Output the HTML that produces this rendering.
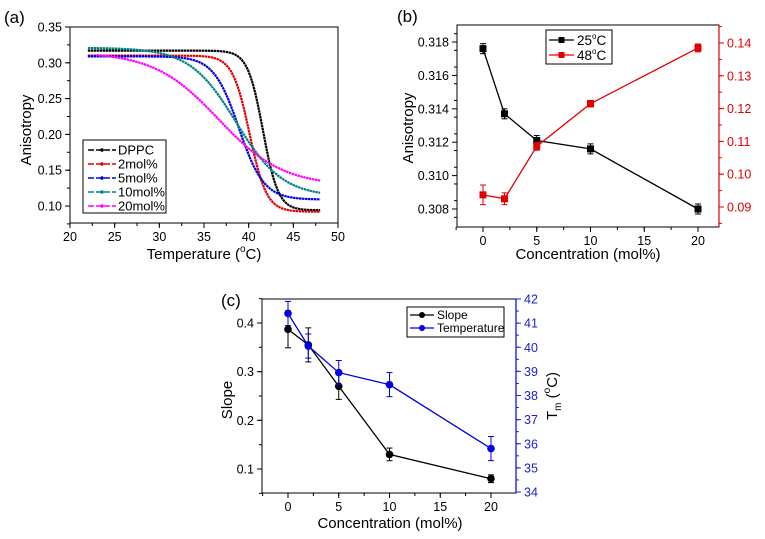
<!DOCTYPE html>
<html><head><meta charset="utf-8"><style>
body{margin:0;background:#fff}
svg{display:block;font-family:"Liberation Sans",Arial,sans-serif}
</style></head><body>
<svg id="fig" width="765" height="539" viewBox="0 0 765 539"></svg>
<script>
// Panel (a): Boltzmann fit parameters per series
const aNames=["DPPC","2mol%","5mol%","10mol%","20mol%"];
const aColors=["#000","#e00000","#0000e0","#008080","#ff00ff"];
const aTop=[0.317,0.310,0.309,0.321,0.315];
const aBottom=[0.094,0.092,0.109,0.113,0.128];
const aTm=[41.6,40.1,38.9,38.6,36.6];
const aWidth=[0.85,0.95,1.4,2.6,3.6];
const aXTicks=[20,25,30,35,40,45,50];
const aYTicks=[0.10,0.15,0.20,0.25,0.30,0.35];
// Panel (b)
const bConc=[0,2,5,10,20];
const b25=[0.3176,0.3137,0.3121,0.3116,0.3080];
const b25Err=[0.0003,0.0003,0.0003,0.0003,0.0003];
const b48=[0.0937,0.0925,0.1085,0.1215,0.1385];
const b48Err=[0.0030,0.0018,0.0012,0.0010,0.0012];
const bXTicks=[0,5,10,15,20];
const bYTicks=[0.308,0.310,0.312,0.314,0.316,0.318];
const bY2Ticks=[0.09,0.10,0.11,0.12,0.13,0.14];
// Panel (c)
const cConc=[0,2,5,10,20];
const cSlope=[0.387,0.355,0.270,0.130,0.080];
const cSlopeErr=[0.038,0.035,0.027,0.013,0.008];
const cTemp=[41.4,40.05,38.95,38.45,35.8];
const cTempErr=[0.5,0.5,0.5,0.5,0.5];
const cXTicks=[0,5,10,15,20];
const cYTicks=[0.1,0.2,0.3,0.4];
const cY2Ticks=[34,35,36,37,38,39,40,41,42];

const svg=document.getElementById('fig');
const NS='http://www.w3.org/2000/svg';
const TICKFS=12.5, TITLEFS=15;
function el(tag,attrs,parent,text){const e=document.createElementNS(NS,tag);for(const k in attrs)e.setAttribute(k,attrs[k]);if(text!==undefined)e.textContent=text;(parent||svg).appendChild(e);return e;}
function lin(d0,d1,r0,r1){return v=>r0+(v-d0)*(r1-r0)/(d1-d0);}
function group(name){const g=el('g',{},svg);return g;}

function frame(g,x0,y0,x1,y1,rightColor){
  const f=el('rect',{x:x0,y:y0,width:x1-x0,height:y1-y0,fill:'none',stroke:'#000','stroke-width':1},g);
  
  if(rightColor){el('line',{x1:x1,y1:y0,x2:x1,y2:y1,stroke:rightColor,'stroke-width':1.2},g);}
}
function xAxis(g,sx,ticks,y,minorStep,xmin,xmax,name){
  const ag=el('g',{},g);
  for(let v=Math.ceil(xmin/minorStep)*minorStep;v<=xmax+1e-9;v+=minorStep){el('line',{x1:sx(v),y1:y,x2:sx(v),y2:y+3,stroke:'#000'},ag);}
  ticks.forEach(t=>{el('line',{x1:sx(t),y1:y,x2:sx(t),y2:y+5,stroke:'#000'},ag);
    const tx=el('text',{x:sx(t),y:y+18,'font-size':TICKFS,'text-anchor':'middle',fill:'#000'},ag,String(t));
    });
}
function yAxis(g,sy,ticks,x,dir,minorStep,ymin,ymax,color,fmt,name){
  const ag=el('g',{},g);
  for(let v=ymin;v<=ymax+1e-9;v+=minorStep){el('line',{x1:x,y1:sy(v),x2:x+dir*3,y2:sy(v),stroke:color},ag);}
  ticks.forEach(t=>{el('line',{x1:x,y1:sy(t),x2:x+dir*5,y2:sy(t),stroke:color},ag);
    const tx=el('text',{x:x+dir*8,y:sy(t)+4.5,'font-size':TICKFS,'text-anchor':dir<0?'end':'start',fill:color},ag,fmt(t));
    });
}
function errSeries(g,sx,sy,xs,ys,es,color,marker,name){
  const sg=el('g',{},g);
  el('polyline',{points:xs.map((x,i)=>sx(x)+','+sy(ys[i])).join(' '),fill:'none',stroke:color,'stroke-width':1.3},sg);
  xs.forEach((x,i)=>{const X=sx(x),a=sy(ys[i]-es[i]),b=sy(ys[i]+es[i]);
    el('line',{x1:X,y1:a,x2:X,y2:b,stroke:color},sg);
    el('line',{x1:X-3,y1:a,x2:X+3,y2:a,stroke:color},sg);
    el('line',{x1:X-3,y1:b,x2:X+3,y2:b,stroke:color},sg);
    let m;
    if(marker==='sq')m=el('rect',{x:X-3.5,y:sy(ys[i])-3.5,width:7,height:7,fill:color},sg);
    else m=el('circle',{cx:X,cy:sy(ys[i]),r:3.8,fill:color},sg);
    });
}
function label(g,x,y,txt,size,name,rot,anchor){
  const t=el('text',{x:x,y:y,'font-size':size,'text-anchor':anchor||'middle',fill:'#000'},g);
  if(rot)t.setAttribute('transform','rotate(-90 '+x+' '+y+')');
  t.innerHTML=txt;return t;
}

// ---------- Panel (a)
(function(){
  const g=group('panel-a');
  const X0=70,X1=338,Y0=27,Y1=223;
  const sx=lin(20,50,X0,X1), sy=lin(0.10,0.35,206,27);
  label(g,4,23,'(a)',17,'panel-a-label',false,'start');
  frame(g,X0,Y0,X1,Y1);
  xAxis(g,sx,aXTicks,Y1,2.5,20,50,'x-axis-a');
  yAxis(g,sy,aYTicks,X0,-1,0.025,0.075,0.35,'#000',v=>v.toFixed(2),'y-axis-a');
  label(g,204,259,'Temperature (<tspan font-size="10" dy="-7">o</tspan><tspan dy="7">C)</tspan>',TITLEFS,'x-axis-title-a');
  label(g,31,130,'Anisotropy',TITLEFS,'y-axis-title-a',true);
  aNames.forEach((n,i)=>{
    const pts=[];const start=i===4?23:22;
    for(let T=start;T<=48.001;T+=0.25){const v=aBottom[i]+(aTop[i]-aBottom[i])/(1+Math.exp((T-aTm[i])/aWidth[i]));pts.push(sx(T)+','+sy(v));}
    const p=el('polyline',{points:pts.join(' '),fill:'none',stroke:aColors[i],'stroke-width':2.2,'stroke-dasharray':'2.5 0.5'},g);
    
  });
  const lg=el('g',{},g);
  el('rect',{x:83,y:140,width:83,height:73,fill:'#fff',stroke:'#000'},lg);
  aNames.forEach((n,i)=>{const y=150+i*14;
    el('line',{x1:88,y1:y,x2:116,y2:y,stroke:aColors[i],'stroke-width':1.5,'stroke-dasharray':'6 2'},lg);
    el('circle',{cx:102,cy:y,r:1.8,fill:aColors[i]},lg);
    const t=el('text',{x:118,y:y+4.5,'font-size':13,fill:'#000'},lg,n);
    });
})();

// ---------- Panel (b)
(function(){
  const g=group('panel-b');
  const X0=457,X1=719,Y0=25,Y1=227;
  const sx=lin(0,20,483,698), sy=lin(0.308,0.318,209,42), sy2=lin(0.09,0.14,207,43);
  label(g,397,22,'(b)',17,'panel-b-label',false,'start');
  frame(g,X0,Y0,X1,Y1,'#e00000');
  xAxis(g,sx,bXTicks,Y1,2.5,-2.5,22,'x-axis-b');
  yAxis(g,sy,bYTicks,X0,-1,0.001,0.3075,0.3185,'#000',v=>v.toFixed(3),'y-axis-left-b');
  yAxis(g,sy2,bY2Ticks,X1,1,0.005,0.085,0.145,'#e00000',v=>v.toFixed(2),'y-axis-right-b');
  label(g,588,259,'Concentration (mol%)',TITLEFS,'x-axis-title-b');
  label(g,413,128,'Anisotropy',TITLEFS,'y-axis-title-b',true);
  errSeries(g,sx,sy,bConc,b25,b25Err,'#000','sq','series-25c');
  errSeries(g,sx,sy2,bConc,b48,b48Err,'#e00000','sq','series-48c');
  const lg=el('g',{},g);
  el('rect',{x:546,y:30,width:66,height:34,fill:'#fff',stroke:'#000'},lg);
  [['#000','25'],['#e00000','48']].forEach((c,i)=>{const y=40+i*15;
    el('line',{x1:549,y1:y,x2:574,y2:y,stroke:c[0],'stroke-width':1.3},lg);
    el('rect',{x:558.5,y:y-3,width:6,height:6,fill:c[0]},lg);
    const t=el('text',{x:577,y:y+5,'font-size':13.5,fill:'#000'},lg);
    t.innerHTML=c[1]+'<tspan font-size="8" dy="-6">o</tspan><tspan dy="6">C</tspan>';
    });
})();

// ---------- Panel (c)
(function(){
  const g=group('panel-c');
  const X0=262,X1=516,Y0=299,Y1=493;
  const sx=lin(0,20,288,491), sy=lin(0.1,0.4,469,323), sy2=lin(34,42,492,299);
  label(g,221,306,'(c)',17,'panel-c-label',false,'start');
  frame(g,X0,Y0,X1,Y1,'#0000e0');
  xAxis(g,sx,cXTicks,Y1,2.5,-2.5,22,'x-axis-c');
  yAxis(g,sy,cYTicks,X0,-1,0.05,0.05,0.45,'#000',v=>v.toFixed(1),'y-axis-left-c');
  yAxis(g,sy2,cY2Ticks,X1,1,0.5,34,42,'#2020d0',v=>String(v),'y-axis-right-c');
  label(g,390,528,'Concentration (mol%)',TITLEFS,'x-axis-title-c');
  label(g,232,400,'Slope',TITLEFS,'y-axis-title-c',true);
  label(g,557,396,'T<tspan font-size="10" dy="4">m</tspan><tspan dy="-4"> (</tspan><tspan font-size="10" dy="-7">o</tspan><tspan dy="7">C)</tspan>',TITLEFS,'y-axis-right-title-c',true);
  errSeries(g,sx,sy,cConc,cSlope,cSlopeErr,'#000','c','series-slope');
  errSeries(g,sx,sy2,cConc,cTemp,cTempErr,'#0000e0','c','series-temperature');
  const lg=el('g',{},g);
  el('rect',{x:407,y:307,width:97,height:30,fill:'#fff',stroke:'#000'},lg);
  [['#000','Slope'],['#0000e0','Temperature']].forEach((c,i)=>{const y=315+i*13;
    el('line',{x1:410,y1:y,x2:434,y2:y,stroke:c[0],'stroke-width':1.3},lg);
    el('circle',{cx:422,cy:y,r:3,fill:c[0]},lg);
    const t=el('text',{x:437,y:y+4,'font-size':12,fill:'#000'},lg,c[1]);
    });
})();
</script>
</body></html>
